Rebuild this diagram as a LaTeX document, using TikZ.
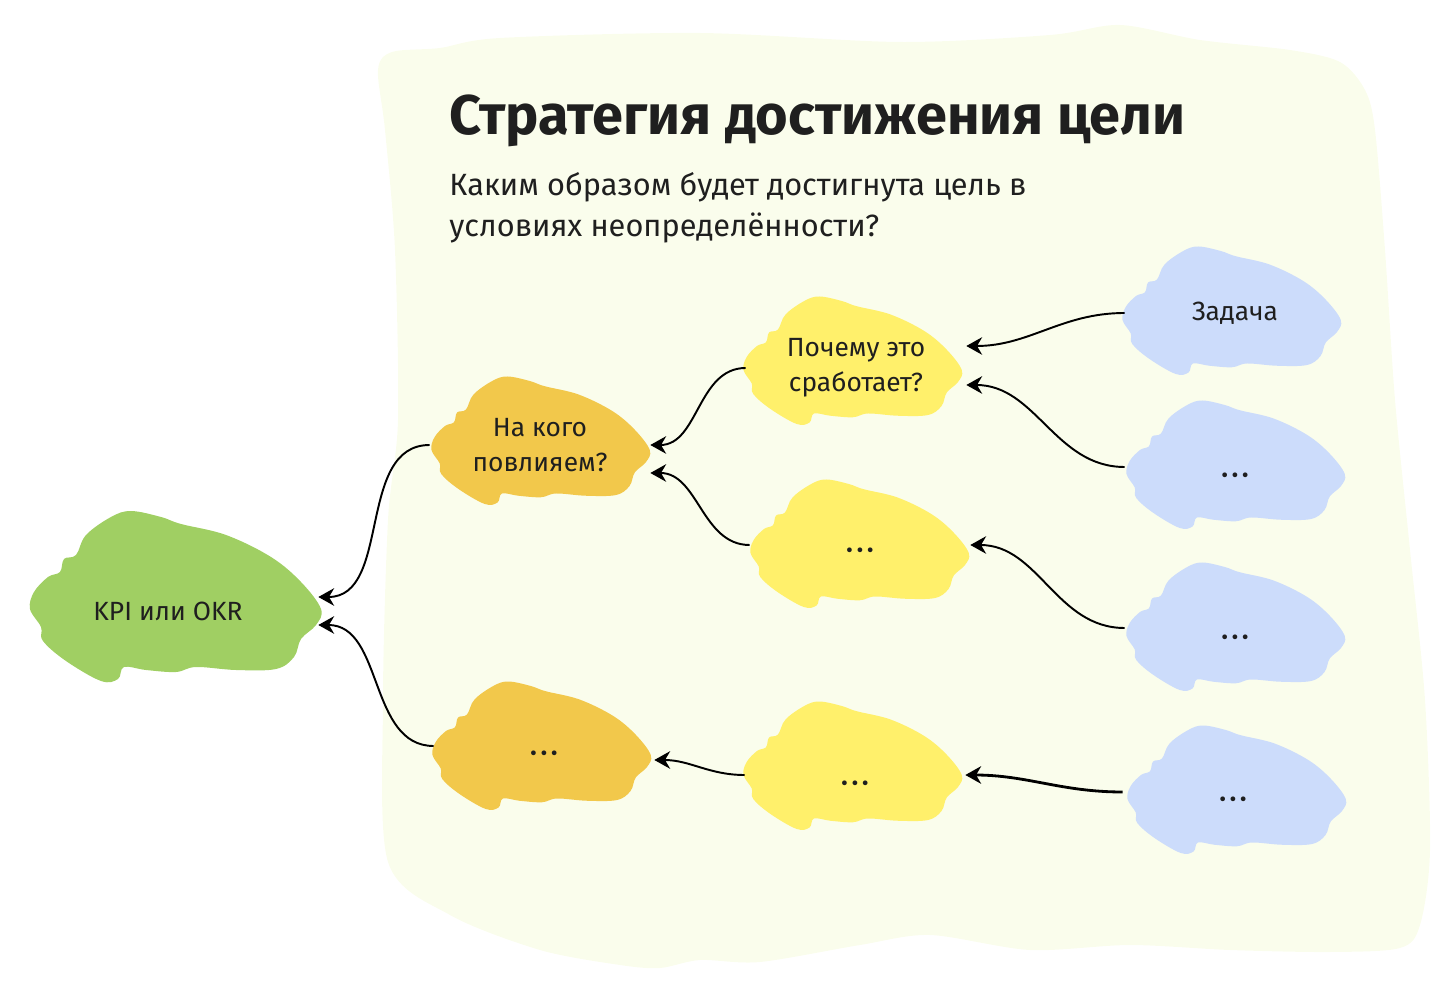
\documentclass[tikz,border=0pt]{standalone}
\usepackage{fontspec}
\setmainfont{Fira Sans}
\usetikzlibrary{arrows.meta,positioning}
\definecolor{paper}{RGB}{250,253,236}
\definecolor{goalgreen}{RGB}{160,207,99}
\definecolor{whoorange}{RGB}{242,200,75}
\definecolor{whyyellow}{RGB}{255,240,107}
\definecolor{taskblue}{RGB}{204,220,251}
\definecolor{ink}{RGB}{31,31,31}
\newcommand{\cloud}[3]{%
  \fill[#3, shift={(#1)}, scale=#2] plot[smooth cycle, tension=.6] coordinates {
    (-100,-42) (-90,-62) (-65,-80) (-45,-86) (-15,-80) (5,-73) (50,-62)
    (95,-40) (125,-15) (145,12) (140,28) (125,42) (118,60) (100,72)
    (60,73) (20,70) (0,75) (-30,73) (-52,70) (-58,82) (-75,84) (-110,64)
    (-133,44) (-135,30) (-146,12) (-142,-5) (-128,-20) (-116,-25) (-112,-38)};}
\newcommand{\more}{{\fontsize{12}{12}\selectfont\textbullet\,\textbullet\,\textbullet}}
\tikzset{>={Stealth[length=9pt,width=10pt]},
         every node/.style={text=ink},
         step box/.style={minimum width=4.4cm, minimum height=2.5cm,
           inner sep=0pt, align=center, font=\fontsize{15}{20}\selectfont},
         link/.style={->, line width=1.1pt}}

\begin{document}
\begin{tikzpicture}[x=0.02cm, y=-0.02cm]
  \useasboundingbox (0,0) rectangle (1454,996);
  % background sheet
  \fill[paper] plot[smooth cycle, tension=.5] coordinates {
    (378,70) (392,52) (440,48) (500,38) (700,33) (900,42) (1050,35)
    (1120,25) (1200,40) (1290,50) (1340,62) (1365,90) (1375,130)
    (1385,250) (1395,400) (1410,550) (1425,700) (1430,850) (1420,925)
    (1400,948) (1330,952) (1230,950) (1130,945) (1030,950) (930,935)
    (860,945) (760,962) (700,960) (660,968) (620,965) (540,950)
    (450,915) (388,862) (383,700) (388,520) (398,420) (395,250) (385,130)};
  \node[anchor=base west, inner sep=0pt,
        font=\fontsize{31.8}{40}\selectfont\bfseries] (title)
    at (449,135) {Стратегия достижения цели};
  \node[anchor=base west, align=left, inner sep=0pt,
        font=\fontsize{17.5}{23.8}\selectfont] (question)
    at (449,237) {Каким образом будет достигнута цель в\\условиях неопределённости?};
  % clouds
  \cloud{176,597}{1}{goalgreen}
  \cloud{541,441}{.75}{whoorange}
  \cloud{542,746}{.75}{whoorange}
  \cloud{853,361}{.75}{whyyellow}
  \cloud{860,544}{.75}{whyyellow}
  \cloud{853,766}{.75}{whyyellow}
  \cloud{1232,311}{.75}{taskblue}
  \cloud{1236,465}{.75}{taskblue}
  \cloud{1236,627}{.75}{taskblue}
  \cloud{1237,790}{.75}{taskblue}
  % nodes
  \node[step box, minimum width=6cm] (goal) at (168,611) {KPI или OKR};
  \node[step box] (who1) at (540,445) {На кого\\повлияем?};
  \node[step box] (who2) at (544,756) {\more};
  \node[step box] (why1) at (856,368) {Почему это\\сработает?};
  \node[step box] (why2) at (860,553) {\more};
  \node[step box] (why3) at (855,786) {\more};
  \node[step box] (task1) at (1235,313) {Задача};
  \node[step box] (task2) at (1235,478) {\more};
  \node[step box] (task3) at (1235,640) {\more};
  \node[step box] (task4) at (1233,802) {\more};
  % links
  \draw[link] (who1.west) to[out=180, in=0] ([yshift=0.28cm]goal.east);
  \draw[link] ([yshift=0.2cm]who2.west) to[out=180, in=0] ([yshift=-0.28cm]goal.east);
  \draw[link] (why1.west) to[out=180, in=0] (who1.east);
  \draw[link] ([yshift=0.16cm]why2.west) to[out=180, in=0] ([yshift=-0.56cm]who1.east);
  \draw[link] ([yshift=0.22cm]why3.west) to[out=180, in=0] ([yshift=-0.08cm]who2.east);
  \draw[link] (task1.west) to[out=180, in=0] ([yshift=0.44cm]why1.east);
  \draw[link] ([yshift=0.22cm]task2.west) to[out=180, in=0] ([yshift=-0.34cm]why1.east);
  \draw[link] ([yshift=0.24cm]task3.west) to[out=180, in=0] ([yshift=0.16cm]why2.east);
  \draw[link, line width=1.6pt] ([yshift=0.2cm]task4.west) to[out=180, in=0] ([yshift=0.22cm]why3.east);
\end{tikzpicture}
\end{document}
